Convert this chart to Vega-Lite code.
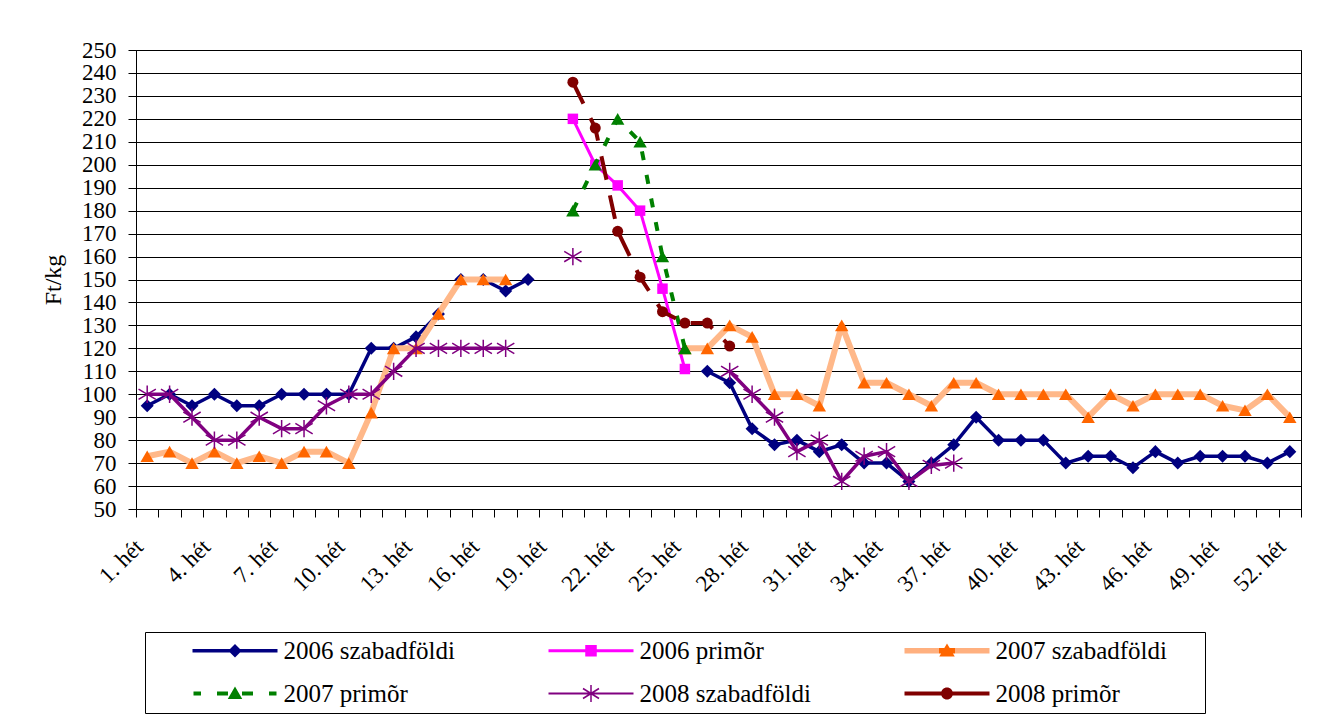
{
  "$schema": "https://vega.github.io/schema/vega-lite/v6.json",
  "width": 1165,
  "height": 459,
  "autosize": "none",
  "padding": {"left": 136, "top": 50, "right": 20, "bottom": 209},
  "background": "white",
  "config": {
    "font": "Liberation Serif",
    "view": {"stroke": "#000", "strokeWidth": 1},
    "axis": {"labelFont": "Liberation Serif", "titleFont": "Liberation Serif", "labelColor": "#000", "titleColor": "#000", "tickColor": "#000", "domainColor": "#000", "gridColor": "#000"},
    "legend": {"labelFont": "Liberation Serif", "titleFont": "Liberation Serif"}
  },
  "data": {"values": [
    {"week": 1, "series": "2006 szabadföldi", "value": 95},
    {"week": 2, "series": "2006 szabadföldi", "value": 100},
    {"week": 3, "series": "2006 szabadföldi", "value": 95},
    {"week": 4, "series": "2006 szabadföldi", "value": 100},
    {"week": 5, "series": "2006 szabadföldi", "value": 95},
    {"week": 6, "series": "2006 szabadföldi", "value": 95},
    {"week": 7, "series": "2006 szabadföldi", "value": 100},
    {"week": 8, "series": "2006 szabadföldi", "value": 100},
    {"week": 9, "series": "2006 szabadföldi", "value": 100},
    {"week": 10, "series": "2006 szabadföldi", "value": 100},
    {"week": 11, "series": "2006 szabadföldi", "value": 120},
    {"week": 12, "series": "2006 szabadföldi", "value": 120},
    {"week": 13, "series": "2006 szabadföldi", "value": 125},
    {"week": 14, "series": "2006 szabadföldi", "value": 135},
    {"week": 15, "series": "2006 szabadföldi", "value": 150},
    {"week": 16, "series": "2006 szabadföldi", "value": 150},
    {"week": 17, "series": "2006 szabadföldi", "value": 145},
    {"week": 18, "series": "2006 szabadföldi", "value": 150},
    {"week": 19, "series": "2006 szabadföldi", "value": null},
    {"week": 26, "series": "2006 szabadföldi", "value": 110},
    {"week": 27, "series": "2006 szabadföldi", "value": 105},
    {"week": 28, "series": "2006 szabadföldi", "value": 85},
    {"week": 29, "series": "2006 szabadföldi", "value": 78},
    {"week": 30, "series": "2006 szabadföldi", "value": 80},
    {"week": 31, "series": "2006 szabadföldi", "value": 75},
    {"week": 32, "series": "2006 szabadföldi", "value": 78},
    {"week": 33, "series": "2006 szabadföldi", "value": 70},
    {"week": 34, "series": "2006 szabadföldi", "value": 70},
    {"week": 35, "series": "2006 szabadföldi", "value": 62},
    {"week": 36, "series": "2006 szabadföldi", "value": 70},
    {"week": 37, "series": "2006 szabadföldi", "value": 78},
    {"week": 38, "series": "2006 szabadföldi", "value": 90},
    {"week": 39, "series": "2006 szabadföldi", "value": 80},
    {"week": 40, "series": "2006 szabadföldi", "value": 80},
    {"week": 41, "series": "2006 szabadföldi", "value": 80},
    {"week": 42, "series": "2006 szabadföldi", "value": 70},
    {"week": 43, "series": "2006 szabadföldi", "value": 73},
    {"week": 44, "series": "2006 szabadföldi", "value": 73},
    {"week": 45, "series": "2006 szabadföldi", "value": 68},
    {"week": 46, "series": "2006 szabadföldi", "value": 75},
    {"week": 47, "series": "2006 szabadföldi", "value": 70},
    {"week": 48, "series": "2006 szabadföldi", "value": 73},
    {"week": 49, "series": "2006 szabadföldi", "value": 73},
    {"week": 50, "series": "2006 szabadföldi", "value": 73},
    {"week": 51, "series": "2006 szabadföldi", "value": 70},
    {"week": 52, "series": "2006 szabadföldi", "value": 75},
    {"week": 20, "series": "2006 primõr", "value": 220},
    {"week": 21, "series": "2006 primõr", "value": 200},
    {"week": 22, "series": "2006 primõr", "value": 191},
    {"week": 23, "series": "2006 primõr", "value": 180},
    {"week": 24, "series": "2006 primõr", "value": 146},
    {"week": 25, "series": "2006 primõr", "value": 111},
    {"week": 1, "series": "2007 szabadföldi", "value": 73},
    {"week": 2, "series": "2007 szabadföldi", "value": 75},
    {"week": 3, "series": "2007 szabadföldi", "value": 70},
    {"week": 4, "series": "2007 szabadföldi", "value": 75},
    {"week": 5, "series": "2007 szabadföldi", "value": 70},
    {"week": 6, "series": "2007 szabadföldi", "value": 73},
    {"week": 7, "series": "2007 szabadföldi", "value": 70},
    {"week": 8, "series": "2007 szabadföldi", "value": 75},
    {"week": 9, "series": "2007 szabadföldi", "value": 75},
    {"week": 10, "series": "2007 szabadföldi", "value": 70},
    {"week": 11, "series": "2007 szabadföldi", "value": 92},
    {"week": 12, "series": "2007 szabadföldi", "value": 120},
    {"week": 13, "series": "2007 szabadföldi", "value": 120},
    {"week": 14, "series": "2007 szabadföldi", "value": 135},
    {"week": 15, "series": "2007 szabadföldi", "value": 150},
    {"week": 16, "series": "2007 szabadföldi", "value": 150},
    {"week": 17, "series": "2007 szabadföldi", "value": 150},
    {"week": 18, "series": "2007 szabadföldi", "value": null},
    {"week": 25, "series": "2007 szabadföldi", "value": 120},
    {"week": 26, "series": "2007 szabadföldi", "value": 120},
    {"week": 27, "series": "2007 szabadföldi", "value": 130},
    {"week": 28, "series": "2007 szabadföldi", "value": 125},
    {"week": 29, "series": "2007 szabadföldi", "value": 100},
    {"week": 30, "series": "2007 szabadföldi", "value": 100},
    {"week": 31, "series": "2007 szabadföldi", "value": 95},
    {"week": 32, "series": "2007 szabadföldi", "value": 130},
    {"week": 33, "series": "2007 szabadföldi", "value": 105},
    {"week": 34, "series": "2007 szabadföldi", "value": 105},
    {"week": 35, "series": "2007 szabadföldi", "value": 100},
    {"week": 36, "series": "2007 szabadföldi", "value": 95},
    {"week": 37, "series": "2007 szabadföldi", "value": 105},
    {"week": 38, "series": "2007 szabadföldi", "value": 105},
    {"week": 39, "series": "2007 szabadföldi", "value": 100},
    {"week": 40, "series": "2007 szabadföldi", "value": 100},
    {"week": 41, "series": "2007 szabadföldi", "value": 100},
    {"week": 42, "series": "2007 szabadföldi", "value": 100},
    {"week": 43, "series": "2007 szabadföldi", "value": 90},
    {"week": 44, "series": "2007 szabadföldi", "value": 100},
    {"week": 45, "series": "2007 szabadföldi", "value": 95},
    {"week": 46, "series": "2007 szabadföldi", "value": 100},
    {"week": 47, "series": "2007 szabadföldi", "value": 100},
    {"week": 48, "series": "2007 szabadföldi", "value": 100},
    {"week": 49, "series": "2007 szabadföldi", "value": 95},
    {"week": 50, "series": "2007 szabadföldi", "value": 93},
    {"week": 51, "series": "2007 szabadföldi", "value": 100},
    {"week": 52, "series": "2007 szabadföldi", "value": 90},
    {"week": 20, "series": "2007 primõr", "value": 180},
    {"week": 21, "series": "2007 primõr", "value": 200},
    {"week": 22, "series": "2007 primõr", "value": 220},
    {"week": 23, "series": "2007 primõr", "value": 210},
    {"week": 24, "series": "2007 primõr", "value": 160},
    {"week": 25, "series": "2007 primõr", "value": 120},
    {"week": 1, "series": "2008 szabadföldi", "value": 100},
    {"week": 2, "series": "2008 szabadföldi", "value": 100},
    {"week": 3, "series": "2008 szabadföldi", "value": 90},
    {"week": 4, "series": "2008 szabadföldi", "value": 80},
    {"week": 5, "series": "2008 szabadföldi", "value": 80},
    {"week": 6, "series": "2008 szabadföldi", "value": 90},
    {"week": 7, "series": "2008 szabadföldi", "value": 85},
    {"week": 8, "series": "2008 szabadföldi", "value": 85},
    {"week": 9, "series": "2008 szabadföldi", "value": 95},
    {"week": 10, "series": "2008 szabadföldi", "value": 100},
    {"week": 11, "series": "2008 szabadföldi", "value": 100},
    {"week": 12, "series": "2008 szabadföldi", "value": 110},
    {"week": 13, "series": "2008 szabadföldi", "value": 120},
    {"week": 14, "series": "2008 szabadföldi", "value": 120},
    {"week": 15, "series": "2008 szabadföldi", "value": 120},
    {"week": 16, "series": "2008 szabadföldi", "value": 120},
    {"week": 17, "series": "2008 szabadföldi", "value": 120},
    {"week": 18, "series": "2008 szabadföldi", "value": null},
    {"week": 20, "series": "2008 szabadföldi", "value": 160},
    {"week": 21, "series": "2008 szabadföldi", "value": null},
    {"week": 27, "series": "2008 szabadföldi", "value": 110},
    {"week": 28, "series": "2008 szabadföldi", "value": 100},
    {"week": 29, "series": "2008 szabadföldi", "value": 90},
    {"week": 30, "series": "2008 szabadföldi", "value": 75},
    {"week": 31, "series": "2008 szabadföldi", "value": 80},
    {"week": 32, "series": "2008 szabadföldi", "value": 62},
    {"week": 33, "series": "2008 szabadföldi", "value": 73},
    {"week": 34, "series": "2008 szabadföldi", "value": 75},
    {"week": 35, "series": "2008 szabadföldi", "value": 62},
    {"week": 36, "series": "2008 szabadföldi", "value": 69},
    {"week": 37, "series": "2008 szabadföldi", "value": 70},
    {"week": 20, "series": "2008 primõr", "value": 236},
    {"week": 21, "series": "2008 primõr", "value": 216},
    {"week": 22, "series": "2008 primõr", "value": 171},
    {"week": 23, "series": "2008 primõr", "value": 151},
    {"week": 24, "series": "2008 primõr", "value": 136},
    {"week": 25, "series": "2008 primõr", "value": 131},
    {"week": 26, "series": "2008 primõr", "value": 131},
    {"week": 27, "series": "2008 primõr", "value": 121}
  ]},
  "encoding": {
    "x": {
      "field": "week", "type": "quantitative",
      "scale": {"domain": [0.5, 52.5], "nice": false, "zero": false},
      "axis": {
        "title": null, "grid": false,
        "values": [0.5,1.5,2.5,3.5,4.5,5.5,6.5,7.5,8.5,9.5,10.5,11.5,12.5,13.5,14.5,15.5,16.5,17.5,18.5,19.5,20.5,21.5,22.5,23.5,24.5,25.5,26.5,27.5,28.5,29.5,30.5,31.5,32.5,33.5,34.5,35.5,36.5,37.5,38.5,39.5,40.5,41.5,42.5,43.5,44.5,45.5,46.5,47.5,48.5,49.5,50.5,51.5,52.5],
        "labelExpr": "(datum.value - 0.5) % 3 == 0 ? (datum.value + 0.5) + '. hét' : ''",
        "labelAngle": -45, "labelAlign": "right", "labelBaseline": "middle",
        "labelFontSize": 23, "labelPadding": 26, "labelOffset": 3,
        "labelOverlap": false, "labelBound": false, "labelFlush": false,
        "tickSize": 8, "tickWidth": 1, "domainWidth": 1
      }
    },
    "y": {
      "field": "value", "type": "quantitative",
      "scale": {"domain": [50, 250], "nice": false, "zero": false},
      "axis": {
        "title": "Ft/kg", "titleFontSize": 24, "titleFontWeight": "normal", "titlePadding": 16,
        "values": [50,60,70,80,90,100,110,120,130,140,150,160,170,180,190,200,210,220,230,240,250],
        "grid": true, "gridWidth": 1, "gridOpacity": 1,
        "labelFontSize": 23, "labelPadding": 12, "labelOverlap": false, "labelFlush": false,
        "tickSize": 8, "tickWidth": 1, "domainWidth": 1
      }
    }
  },
  "layer": [
    {
      "transform": [{"filter": "datum.series === '2006 szabadföldi'"}],
      "mark": {"type": "line", "strokeWidth": 3.5, "strokeJoin": "round", "invalid": "break-paths-show-domains"},
      "encoding": {
        "color": {
          "field": "series", "type": "nominal",
          "scale": {"domain": ["2006 szabadföldi", "2006 primõr", "2007 szabadföldi", "2007 primõr", "2008 szabadföldi", "2008 primõr"], "range": ["#000080", "#FF00FF", "#FF6600", "#008000", "#800080", "#800000"]},
          "legend": {
            "orient": "none", "legendX": 9, "legendY": 582, "columns": 3, "direction": "horizontal",
            "title": ".", "titleOrient": "right", "titlePadding": 25, "titleColor": "transparent", "titleFontSize": 25, "titleFontWeight": "normal",
            "strokeColor": "#000", "padding": 6, "cornerRadius": 0,
            "labelFontSize": 25, "labelColor": "#000", "labelLimit": 500,
            "symbolSize": 100, "symbolStrokeWidth": 0, "symbolOffset": 71.5, "labelOffset": 36,
            "columnPadding": 52, "rowPadding": 17, "gridAlign": "all",
            "encode": {
              "symbols": {
                "update": {
                  "shape": {"signal": "datum.value == '2006 szabadföldi' ? 'M-8.5,-0.35H8.5V0.35H-8.5ZM0,-1.35L1.35,0L0,1.35L-1.35,0Z' : datum.value == '2006 primõr' ? 'M-8.5,-0.3H8.5V0.3H-8.5ZM-1.15,-1.15H1.15V1.15H-1.15Z' : datum.value == '2007 szabadföldi' ? 'M-8.5,-0.55H8.5V0.55H-8.5ZM0,-1.45L1.55,1.15L-1.55,1.15Z' : datum.value == '2007 primõr' ? 'M-8.3,-0.4H-6.8V0.4H-8.3ZM-3.6,-0.4H-1.4V0.4H-3.6ZM1.4,-0.4H3.6V0.4H1.4ZM6.8,-0.4H8.3V0.4H6.8ZM0,-1.4L1.45,1.1L-1.45,1.1Z' : datum.value == '2008 szabadföldi' ? 'M-8.5,-0.2H8.5V0.2H-8.5ZM-0.15,-1.7H0.15V1.7H-0.15ZM-1.68,-0.873L-1.52,-1.127L1.68,0.873L1.52,1.127ZM-1.52,1.127L-1.68,0.873L1.52,-1.127L1.68,-0.873Z' : 'M-8.5,-0.4H8.5V0.4H-8.5ZM-1.2,0A1.2,1.2 0 1,1 1.2,0A1.2,1.2 0 1,1 -1.2,0Z'"},
                  "fill": {"signal": "datum.value == '2007 szabadföldi' ? {gradient: 'linear', x1: 0, y1: 0, x2: 1, y2: 0, stops: [{offset: 0, color: '#FFB07F'}, {offset: 0.41, color: '#FFB07F'}, {offset: 0.41, color: '#FF6600'}, {offset: 0.59, color: '#FF6600'}, {offset: 0.59, color: '#FFB07F'}, {offset: 1, color: '#FFB07F'}]} : scale('color', datum.value)"},
                  "strokeWidth": {"value": 0},
                  "opacity": {"value": 1},
                  "fillOpacity": {"value": 1}
                }
              }
            }
          }
        }
      }
    },
    {
      "transform": [{"filter": "datum.series === '2006 szabadföldi'"}],
      "mark": {"type": "point", "shape": "diamond", "filled": true, "size": 170, "color": "#000080", "opacity": 1}
    },
    {
      "transform": [{"filter": "datum.series === '2006 primõr'"}],
      "mark": {"type": "line", "strokeWidth": 3, "strokeJoin": "round", "invalid": "break-paths-show-domains"},
      "encoding": {"color": {"field": "series", "type": "nominal"}}
    },
    {
      "transform": [{"filter": "datum.series === '2006 primõr'"}],
      "mark": {"type": "point", "shape": "square", "filled": true, "size": 110, "color": "#FF00FF", "opacity": 1}
    },
    {
      "transform": [{"filter": "datum.series === '2007 szabadföldi'"}],
      "mark": {"type": "line", "stroke": "#FFB889", "strokeWidth": 6, "strokeJoin": "round", "invalid": "break-paths-show-domains"}
    },
    {
      "transform": [{"filter": "datum.series === '2007 szabadföldi'"}],
      "mark": {"type": "point", "shape": "triangle-up", "filled": true, "size": 180, "color": "#FF6600", "opacity": 1}
    },
    {
      "transform": [{"filter": "datum.series === '2007 primõr'"}],
      "mark": {"type": "line", "strokeWidth": 4, "strokeDash": [9, 15], "invalid": "break-paths-show-domains"},
      "encoding": {"color": {"field": "series", "type": "nominal"}}
    },
    {
      "transform": [{"filter": "datum.series === '2007 primõr'"}],
      "mark": {"type": "point", "shape": "triangle-up", "filled": true, "size": 180, "color": "#008000", "opacity": 1}
    },
    {
      "transform": [{"filter": "datum.series === '2008 szabadföldi'"}],
      "mark": {"type": "line", "strokeWidth": 3.5, "strokeJoin": "round", "invalid": "break-paths-show-domains"},
      "encoding": {"color": {"field": "series", "type": "nominal"}}
    },
    {
      "transform": [{"filter": "datum.series === '2008 szabadföldi'"}],
      "mark": {"type": "point", "shape": "M0,-1V1M-1,-0.6L1,0.6M-1,0.6L1,-0.6", "filled": false, "strokeWidth": 1.5, "size": 300, "color": "#800080", "opacity": 1}
    },
    {
      "transform": [{"filter": "datum.series === '2008 primõr'"}],
      "mark": {"type": "line", "strokeWidth": 4, "strokeDash": [24, 16], "invalid": "break-paths-show-domains"},
      "encoding": {"color": {"field": "series", "type": "nominal"}}
    },
    {
      "transform": [{"filter": "datum.series === '2008 primõr'"}],
      "mark": {"type": "point", "shape": "circle", "filled": true, "size": 121, "color": "#800000", "opacity": 1}
    }
  ]
}
